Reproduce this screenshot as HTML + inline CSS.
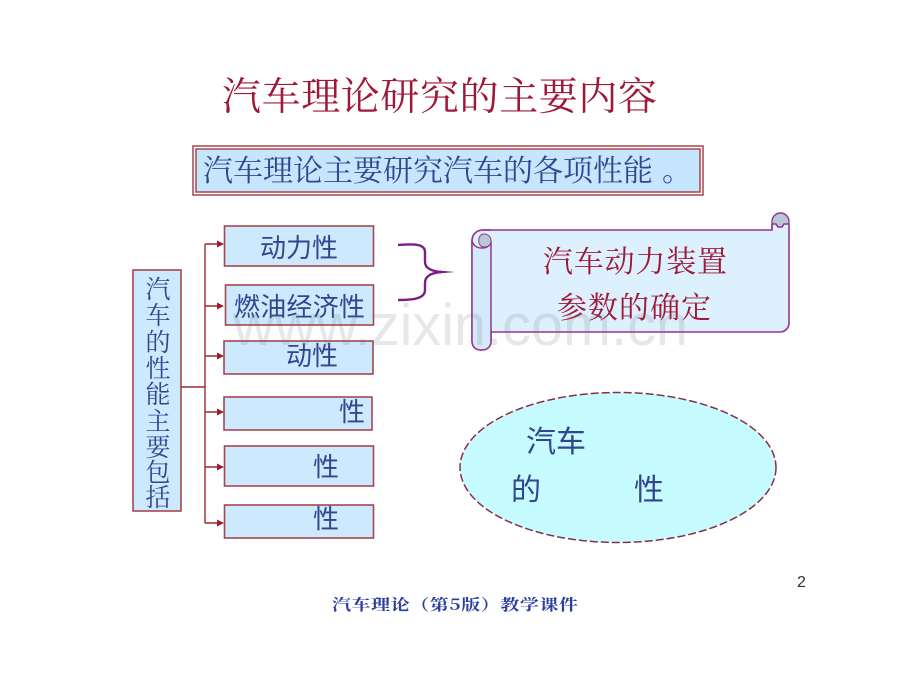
<!DOCTYPE html>
<html><head><meta charset="utf-8"><style>
html,body{margin:0;padding:0;background:#fff}
svg{display:block;filter:blur(.35px)}
text{font-family:"Liberation Sans","Noto Sans CJK SC",sans-serif}
.s{font-family:"Noto Serif CJK SC","Liberation Serif",serif}
.b{fill:#cce9fd;stroke:#a8454f;stroke-width:1.6}
.t{fill:#34458f;font-size:26px}
.l{stroke:#9c2a30;stroke-width:1.4;fill:none}
.a{fill:#9c1f28}
</style></head><body>
<svg width="920" height="690" viewBox="0 0 920 690" xmlns="http://www.w3.org/2000/svg">
<rect width="920" height="690" fill="#fff"/>
<text x="222" y="110" class="s" font-size="39" fill="#a01838" textLength="435" lengthAdjust="spacing">汽车理论研究的主要内容</text>

<rect x="193" y="146" width="510" height="49" fill="#fff" stroke="#a8454f" stroke-width="1.500"/>
<rect x="196" y="149" width="504" height="43" fill="#c6e6fd" stroke="#a8454f" stroke-width="1.500"/>
<text x="203" y="181" class="s" font-size="30" fill="#34458f">汽车理论主要研究汽车的各项性能<tspan dx="9">。</tspan></text>

<!-- left vertical box -->
<rect x="133" y="270" width="48" height="241" class="b"/>
<g class="t" text-anchor="middle" style="font-size:25px">
<text x="158" y="298" class="s">汽</text>
<text x="158" y="324" class="s">车</text>
<text x="158" y="351" class="s">的</text>
<text x="158" y="377" class="s">性</text>
<text x="158" y="403" class="s">能</text>
<text x="158" y="430" class="s">主</text>
<text x="158" y="456" class="s">要</text>
<text x="158" y="481" class="s">包</text>
<text x="158" y="506" class="s">括</text>
</g>

<!-- connectors -->
<path class="l" d="M181 387H205M205 244V523M205 244H220M205 306H220M205 356H220M205 412H220M205 467H220M205 523H220"/>
<g class="a">
<path d="M217 240.500L224 244L217 247.500Z"/>
<path d="M217 302.500L224 306L217 309.500Z"/>
<path d="M217 352.500L224 356L217 359.500Z"/>
<path d="M217 408.500L224 412L217 415.500Z"/>
<path d="M217 463.500L224 467L217 470.500Z"/>
<path d="M217 519.500L224 523L217 526.500Z"/>
</g>

<!-- right boxes -->
<rect x="224.500" y="226" width="149" height="40" class="b"/>
<rect x="225.500" y="285" width="148" height="40" class="b"/>
<rect x="224" y="341" width="149" height="33" class="b"/>
<rect x="224" y="397" width="148" height="33" class="b"/>
<rect x="224.500" y="446" width="149" height="40" class="b"/>
<rect x="224.500" y="505" width="149" height="33" class="b"/>

<g class="s t">
<text x="260" y="257" textLength="78" lengthAdjust="spacing">动力性</text>
<text x="234" y="316" textLength="131" lengthAdjust="spacing">燃油经济性</text>
<text x="286" y="365" textLength="52" lengthAdjust="spacing">动性</text>
<text x="339" y="421">性</text>
<text x="313" y="476">性</text>
<text x="313" y="528">性</text>
</g>

<!-- brace -->
<path d="M398 245C412 244 425 243 425 252V262C425 268 431 271 441 272C431 273 425 276 425 283V290C425 299 412 300 398 300" fill="none" stroke="#7b1f87" stroke-width="2.400"/>
<path d="M439 270.500L455 272L439 273.500Z" fill="#7b1f87"/>

<!-- scroll -->
<circle cx="780.500" cy="221.500" r="8.500" fill="#b9c8d8" stroke="#93358f" stroke-width="1.400"/>
<path d="M483 230H772V224H776L778 227H782L784 224H789V323C789 328 785 332 780 332H491V341C491 347 487 350 481 350C476 350 472 347 472 341V241C472 235 476 230 483 230Z" fill="#dcf0fe" stroke="#93358f" stroke-width="1.600"/>
<path d="M772 224V230" stroke="#93358f" stroke-width="1.400"/>
<path d="M472 241C474 247 478 248 482 248C487 248 491 245 491 241V341C491 347 487 350 481 350C476 350 472 347 472 341Z" fill="#d4e9fa" stroke="#93358f" stroke-width="1.500"/>
<path d="M484 234C480 234 478 238 479 243C480 246 482 247 484 247C488 247 491 245 491 241C491 237 488 234 484 234Z" fill="#b9c8d8" stroke="#93358f" stroke-width="1"/>
<path d="M472 241C472 235 476 230 483 230H491" fill="none" stroke="#93358f" stroke-width="1.500"/>
<text x="543" y="272" class="s" font-size="30" fill="#a01838" textLength="184" lengthAdjust="spacing">汽车动力装置</text>
<text x="557" y="318" class="s" font-size="30" fill="#a01838" textLength="154" lengthAdjust="spacing">参数的确定</text>

<!-- ellipse -->
<ellipse cx="618" cy="467.500" rx="158" ry="75" fill="#c6fbff" stroke="#8a2f4a" stroke-width="1.500" stroke-dasharray="8 3"/>
<g class="s" font-size="30" fill="#34458f">
<text x="526" y="452" textLength="60" lengthAdjust="spacing">汽车</text>
<text x="511" y="500">的</text>
<text x="634" y="500">性</text>
</g>

<!-- watermark overlay -->
<text x="233" y="345" font-size="58" fill="rgba(110,110,110,.17)" textLength="455" lengthAdjust="spacingAndGlyphs">www.zixin.com.cn</text>

<text x="797" y="587" font-size="16" fill="#333">2</text>
<g transform="translate(332 610) scale(1 .82)">
<text x="0" y="0" class="s" font-size="19" font-weight="700" fill="#2c3f9c" textLength="246" lengthAdjust="spacing">汽车理论（第5版）教学课件</text>
</g>
</svg>
</body></html>
